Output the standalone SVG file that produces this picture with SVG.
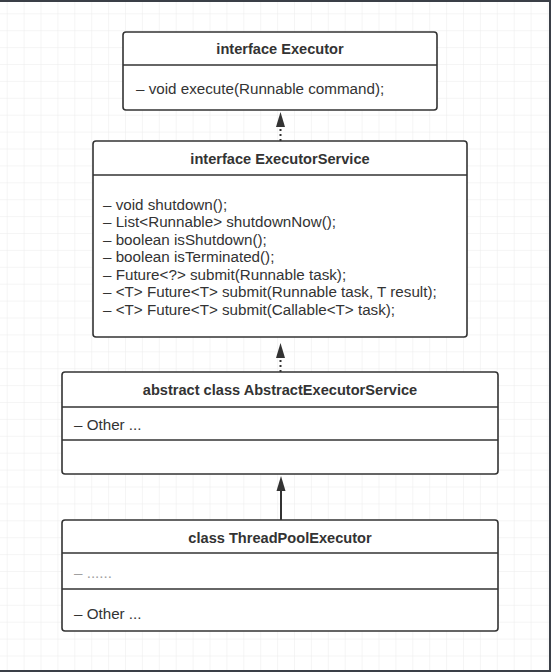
<svg xmlns="http://www.w3.org/2000/svg" width="551" height="672" viewBox="0 0 551 672">
  <style>
    .box { fill: #ffffff; stroke: #333333; stroke-width: 1.6; }
    .div { stroke: #333333; stroke-width: 1.6; }
    .title { font-family: "Liberation Sans", Arial, sans-serif; font-size: 14.6px; font-weight: bold; fill: #333333; text-anchor: middle; dominant-baseline: central; }
    .member { font-family: "Liberation Sans", Arial, sans-serif; font-size: 15.2px; fill: #333333; dominant-baseline: central; }
    .faint { fill: #a0a0a0; }
    .link { stroke: #333333; stroke-width: 2; fill: none; }
    .dotted { stroke-dasharray: 2 3; }
  </style>
  <defs>
    <pattern id="grid" patternUnits="userSpaceOnUse" x="6.7" y="13.3" width="16.9" height="16.9">
      <path d="M0 0 H16.9 M0 0 V16.9" stroke="#ececec" stroke-width="1" fill="none"/>
    </pattern>
  </defs>

  <!-- canvas -->
  <rect x="0" y="0" width="551" height="672" fill="#ffffff"/>
  <rect x="0" y="0" width="551" height="672" fill="url(#grid)"/>
  <path d="M0 1 H550 V671 H0" stroke="#3a3f47" stroke-width="2" fill="none"/>

  <!-- connectors -->
  <g id="connectors">
    <line class="link dotted" x1="280.5" y1="141" x2="280.5" y2="126"/>
    <path d="M280.5 112 L285 127 L276 127 Z" fill="#333333"/>
    <line class="link dotted" x1="280.5" y1="372" x2="280.5" y2="357"/>
    <path d="M280.5 343 L285 358 L276 358 Z" fill="#333333"/>
    <line class="link" x1="281" y1="520" x2="281" y2="490"/>
    <path d="M281 476 L285.5 491 L276.5 491 Z" fill="#333333"/>
  </g>

  <!-- interface Executor -->
  <g id="executor">
    <rect class="box" x="123" y="32" width="314" height="78" rx="3"/>
    <line class="div" x1="123" y1="65" x2="437" y2="65"/>
    <text class="title" x="280" y="48.5">interface Executor</text>
    <text class="member" x="136" y="88">– void execute(Runnable command);</text>
  </g>

  <!-- interface ExecutorService -->
  <g id="executor-service">
    <rect class="box" x="93" y="141" width="374" height="196" rx="3"/>
    <line class="div" x1="93" y1="175" x2="467" y2="175"/>
    <text class="title" x="280" y="158.5">interface ExecutorService</text>
    <text class="member" x="103" y="204">– void shutdown();</text>
    <text class="member" x="103" y="221.5">– List&lt;Runnable&gt; shutdownNow();</text>
    <text class="member" x="103" y="239">– boolean isShutdown();</text>
    <text class="member" x="103" y="256.5">– boolean isTerminated();</text>
    <text class="member" x="103" y="274">– Future&lt;?&gt; submit(Runnable task);</text>
    <text class="member" x="103" y="291.5">– &lt;T&gt; Future&lt;T&gt; submit(Runnable task, T result);</text>
    <text class="member" x="103" y="309">– &lt;T&gt; Future&lt;T&gt; submit(Callable&lt;T&gt; task);</text>
  </g>

  <!-- abstract class AbstractExecutorService -->
  <g id="abstract-executor-service">
    <rect class="box" x="62" y="372" width="436" height="102" rx="3"/>
    <line class="div" x1="62" y1="407" x2="498" y2="407"/>
    <line class="div" x1="62" y1="440" x2="498" y2="440"/>
    <text class="title" x="280" y="390">abstract class AbstractExecutorService</text>
    <text class="member" x="74" y="424">– Other ...</text>
  </g>

  <!-- class ThreadPoolExecutor -->
  <g id="thread-pool-executor">
    <rect class="box" x="62" y="520" width="436" height="111" rx="3"/>
    <line class="div" x1="62" y1="553" x2="498" y2="553"/>
    <line class="div" x1="62" y1="589" x2="498" y2="589"/>
    <text class="title" x="280" y="537.5">class ThreadPoolExecutor</text>
    <text class="member faint" x="74" y="572">– ......</text>
    <text class="member" x="74" y="613">– Other ...</text>
  </g>
</svg>
